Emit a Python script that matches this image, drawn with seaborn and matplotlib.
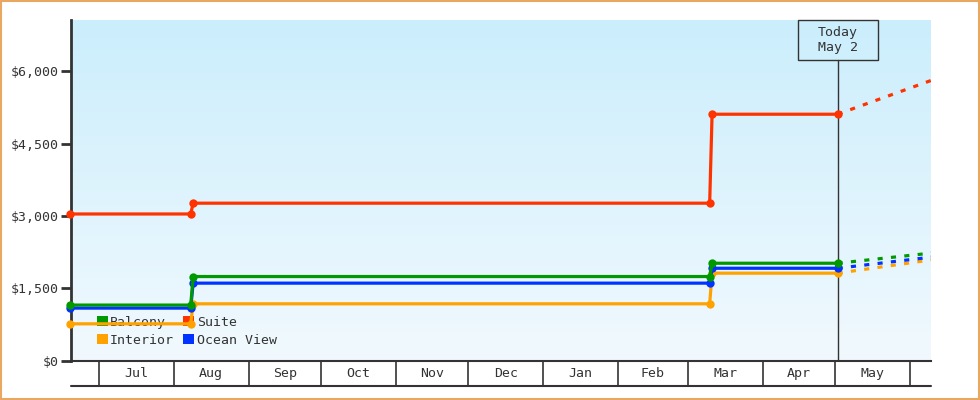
import numpy as np
import pandas as pd
import matplotlib
matplotlib.use("Agg")
import matplotlib.pyplot as plt
import matplotlib.dates as mdates
from matplotlib.patches import Patch, Rectangle
from matplotlib.colors import LinearSegmentedColormap
import matplotlib.transforms as mtransforms
import seaborn as sns

# ---- data ----
dates = ["2023-06-19", "2023-08-08", "2023-08-09", "2024-03-10", "2024-03-11", "2024-05-02"]
balcony = [1150, 1150, 1742, 1742, 2018, 2018]
suite = [3040, 3040, 3264, 3264, 5110, 5110]
ocean_view = [1087, 1087, 1605, 1605, 1914, 1914]
interior = [761, 761, 1176, 1176, 1812, 1812]

proj_dates = ["2024-05-02", "2024-06-10"]
balcony_proj = [2018, 2230]
suite_proj = [5110, 5815]
ocean_view_proj = [1914, 2146]
interior_proj = [1812, 2090]

series_names = ["Interior", "Ocean View", "Balcony", "Suite"]
colors = {"Balcony": "#009a00", "Suite": "#ff3300", "Interior": "#ffa200", "Ocean View": "#0033ff"}
month_labels = ["Jul", "Aug", "Sep", "Oct", "Nov", "Dec", "Jan", "Feb", "Mar", "Apr", "May"]
ytick_vals = [0, 1500, 3000, 4500, 6000]
today = "2024-05-02"
today_label = "Today\nMay 2"

hist = {"Balcony": balcony, "Suite": suite, "Ocean View": ocean_view, "Interior": interior}
proj = {"Balcony": balcony_proj, "Suite": suite_proj, "Ocean View": ocean_view_proj, "Interior": interior_proj}

df = pd.concat([pd.DataFrame({"date": pd.to_datetime(dates), "price": hist[n], "cabin": n}) for n in series_names])
dfp = pd.concat([pd.DataFrame({"date": pd.to_datetime(proj_dates), "price": proj[n], "cabin": n}) for n in series_names])

sns.set_style("white")
plt.rcParams["font.family"] = ["DejaVu Sans Mono"]
TXT = "#333333"

fig = plt.figure(figsize=(9.8, 4.0), dpi=100)
AX_H = 340.5
ax = fig.add_axes([71 / 980, 39.5 / 400, 860 / 980, AX_H / 400])

x0 = mdates.date2num(pd.Timestamp("2023-06-19")) + 0.4
x1 = mdates.date2num(pd.Timestamp("2024-06-09")) + 0.7
ymax = 7065
px_per_day = 860 / (x1 - x0)

# gradient background
cmap = LinearSegmentedColormap.from_list("bg", ["#f1f9fe", "#cbeefc"])
grad = np.linspace(0, 1, 256).reshape(-1, 1)
ax.imshow(grad, extent=[x0, x1, 0, ymax], origin="lower", aspect="auto", cmap=cmap, zorder=0)

# today line and box
tx = mdates.date2num(pd.Timestamp(today))
trans = mtransforms.blended_transform_factory(ax.transData, ax.transAxes)
ax.plot([tx, tx], [0, 1 - 40 / AX_H], transform=trans, color=TXT, lw=1, zorder=1)
half_w = 40 / px_per_day
ax.add_patch(Rectangle((tx - half_w, 1 - 40 / AX_H), 2 * half_w, 40 / AX_H, transform=trans,
                       fill=False, ec=TXT, lw=1, zorder=5, clip_on=False))
ax.text(tx, 1 - 20 / AX_H, today_label, transform=trans, ha="center", va="center",
        fontsize=9.5, color=TXT, linespacing=1.25, zorder=5)

# historical lines
sns.lineplot(data=df, x="date", y="price", hue="cabin", hue_order=series_names, palette=colors,
             marker="o", markersize=6, markeredgewidth=0, linewidth=2.3, legend=False,
             estimator=None, sort=False, ax=ax, zorder=6, clip_on=False)
# projections
sns.lineplot(data=dfp, x="date", y="price", hue="cabin", hue_order=series_names, palette=colors,
             linewidth=2.3, linestyle=(0, (1.6, 2.6)), legend=False, estimator=None, sort=False,
             ax=ax, zorder=4)

ax.set_xlim(x0, x1)
ax.set_ylim(0, ymax)
ax.set_xlabel("")
ax.set_ylabel("")

# y axis
ax.set_yticks(ytick_vals)
ax.set_yticklabels(["${:,}".format(v) for v in ytick_vals])
ax.tick_params(axis="y", direction="out", length=7, width=2, color=TXT, labelsize=9.5,
               labelcolor=TXT, pad=2, left=True)

# x axis: month boundaries as long ticks, labels mid-month
starts = pd.date_range("2023-07-01", "2024-06-01", freq="MS")
mids = [s + (starts[i + 1] - s) / 2 for i, s in enumerate(starts[:-1])]
ax.set_xticks(mdates.date2num(starts))
ax.set_xticklabels([])
ax.set_xticks(mdates.date2num(mids), minor=True)
ax.set_xticklabels(month_labels, minor=True)
ax.tick_params(axis="x", which="major", direction="out", length=18, width=1.2, color=TXT, bottom=True)
ax.tick_params(axis="x", which="minor", length=0, labelsize=9.5, labelcolor=TXT, pad=5, bottom=True)
ax.plot([0, 1], [-25 / AX_H, -25 / AX_H], transform=ax.transAxes, color=TXT, lw=1.5, clip_on=False)

for s in ["top", "right"]:
    ax.spines[s].set_visible(False)
ax.spines["left"].set_color(TXT)
ax.spines["left"].set_linewidth(2)
ax.spines["bottom"].set_color(TXT)
ax.spines["bottom"].set_linewidth(1.5)
ax.grid(False)

# legend
handles = [Patch(facecolor=colors[n], edgecolor="none", label=n) for n in ["Balcony", "Interior", "Suite", "Ocean View"]]
leg = ax.legend(handles=handles, ncol=2, loc="lower left", bbox_to_anchor=(0.018, 0.01), frameon=False,
                fontsize=9.5, handlelength=0.8, handleheight=0.8, handletextpad=0.2, columnspacing=0.7,
                labelspacing=0.35, borderpad=0.3, labelcolor=TXT)
leg.set_zorder(3)

# figure border
fig.patches.append(Rectangle((0.001, 0.002), 0.998, 0.996, transform=fig.transFigure,
                             fill=False, ec="#e8a862", lw=1.5))

fig.savefig("out.png", dpi=100)
